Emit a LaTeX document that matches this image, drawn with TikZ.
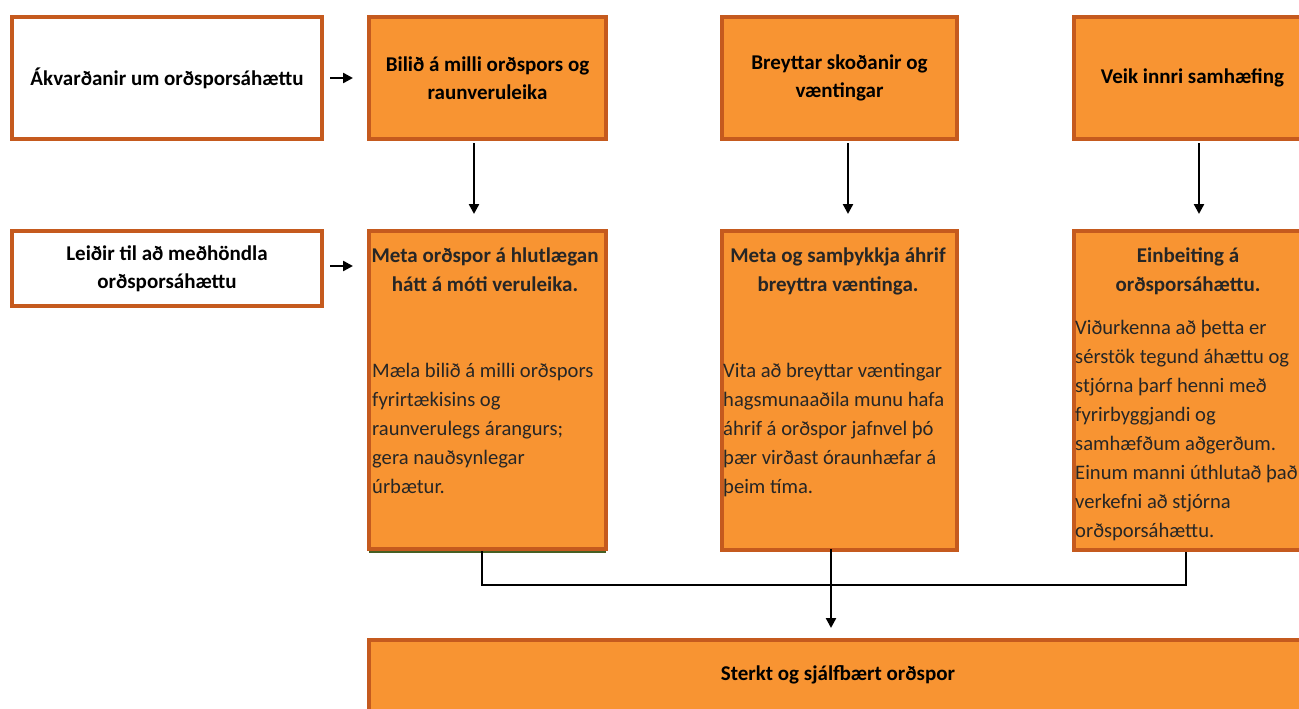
\documentclass[tikz,border=0pt]{standalone}
\usepackage{fontspec}
\setmainfont{Carlito}
\usetikzlibrary{arrows.meta}
\definecolor{boxfill}{RGB}{248,148,50}
\definecolor{boxline}{RGB}{197,90,30}
\definecolor{txtgray}{RGB}{38,38,38}
\definecolor{edgegreen}{RGB}{70,95,35}
\begin{document}
\begin{tikzpicture}[x=1pt,y=-1pt,
  box/.style={draw=boxline, line width=4pt, anchor=north west, inner sep=0pt, align=center,
    font=\fontsize{21}{28}\selectfont\bfseries},
  obox/.style={box, fill=boxfill},
  wbox/.style={box, fill=white},
  dtitle/.style={anchor=north, inner sep=0pt, text=txtgray, align=center,
    font=\fontsize{21}{29}\selectfont\bfseries},
  dbody/.style={anchor=north west, inner sep=0pt, text=txtgray, align=left,
    font=\fontsize{20.6}{29}\selectfont},
  conn/.style={line width=2.4pt, black},
  arr/.style={conn, -{Triangle[length=10pt,width=10pt]}}]
\useasboundingbox (0,0) rectangle (1299,709);
\fill[white] (0,0) rectangle (1299,709);
% top row
\node[wbox, minimum width=310pt, minimum height=122pt] (A) at (10,15) {Ákvarðanir um orðsporsáhættu};
\node[obox, minimum width=237pt, minimum height=122pt] (B1) at (367,15) {Bilið á milli orðspors og\\raunveruleika};
\node[obox, minimum width=235pt, minimum height=122pt] (B2) at (720,15) {Breyttar skoðanir og\\væntingar};
\node[obox, minimum width=237pt, minimum height=122pt] (B3) at (1072,15) {Veik innri samhæfing};
% second row
\node[wbox, minimum width=310pt, minimum height=75pt] (C) at (10,229) {Leiðir til að meðhöndla\\orðsporsáhættu};
\node[obox, minimum width=237pt, minimum height=318pt] (D1) at (367,229) {};
\node[obox, minimum width=235pt, minimum height=319pt] (D2) at (720,229) {};
\node[obox, minimum width=237pt, minimum height=319pt] (D3) at (1072,229) {};
\draw[edgegreen, line width=2pt] ([xshift=2pt,yshift=-1pt]D1.south west) -- ([xshift=-2pt,yshift=-1pt]D1.south east);
% texts in second row
\node[dtitle] (D1h) at (485,248) {Meta orðspor á hlutlægan\\hátt á móti veruleika.};
\node[dbody] (D1b) at (372,363) {Mæla bilið á milli orðspors\\fyrirtækisins og\\raunverulegs árangurs;\\gera nauðsynlegar\\úrbætur.};
\node[dtitle] (D2h) at (838,248) {Meta og samþykkja áhrif\\breyttra væntinga.};
\node[dbody] (D2b) at (723,363) {Vita að breyttar væntingar\\hagsmunaaðila munu hafa\\áhrif á orðspor jafnvel þó\\þær virðast óraunhæfar á\\þeim tíma.};
\node[dtitle] (D3h) at (1188,248) {Einbeiting á\\orðsporsáhættu.};
\node[dbody] (D3b) at (1075,320) {Viðurkenna að þetta er\\sérstök tegund áhættu og\\stjórna þarf henni með\\fyrirbyggjandi og\\samhæfðum aðgerðum.\\Einum manni úthlutað það\\verkefni að stjórna\\orðsporsáhættu.};
% bottom
\node[obox, minimum width=940pt, minimum height=80pt] (E) at (367,638) {};
\node[inner sep=0pt, font=\fontsize{21}{28}\selectfont\bfseries] (Et) at (838,675) {Sterkt og sjálfbært orðspor};
% connectors
\draw[arr, shorten <=6pt, shorten >=14pt] (A.east) -- (B1.west);
\draw[arr, shorten <=6pt, shorten >=14pt] (C.east |- 0,266) coordinate (cs) -- (cs -| D1.west);
\draw[arr, shorten <=2pt, shorten >=15pt] ([xshift=-13.5pt]B1.south) -- ([xshift=-13.5pt]D1.north);
\draw[arr, shorten <=2pt, shorten >=15pt] ([xshift=8.5pt]B2.south) -- ([xshift=8.5pt]D2.north);
\draw[arr, shorten <=2pt, shorten >=15pt] ([xshift=6.5pt]B3.south) -- ([xshift=6.5pt]D3.north);
\draw[conn] ([xshift=-5.5pt]D1.south) -- ++(0,34) -| ([xshift=-6.5pt]D3.south);
\draw[arr, shorten <=-3pt, shorten >=10pt] ([xshift=-8.5pt]D2.south) -- ([xshift=-8.5pt]D2.south |- E.north);
\end{tikzpicture}
\end{document}
